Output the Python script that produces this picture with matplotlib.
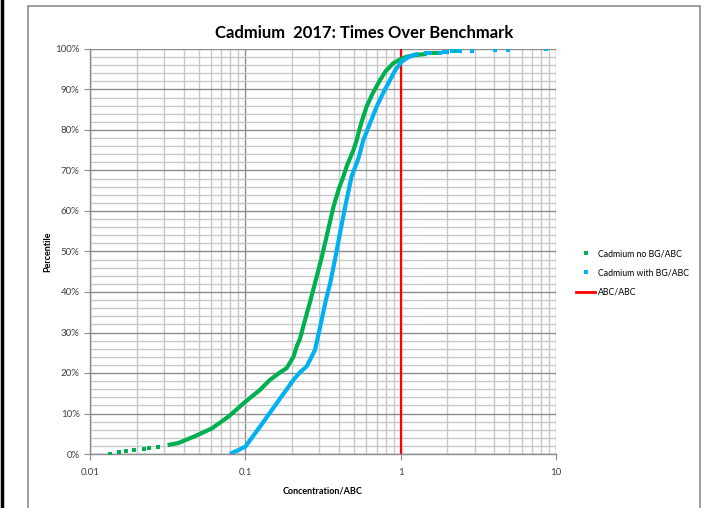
import numpy as np
import matplotlib.pyplot as plt
from matplotlib.ticker import FixedLocator, NullFormatter, FuncFormatter
from matplotlib.lines import Line2D
from matplotlib.patches import Rectangle

plt.rcParams['font.family'] = ['Lato', 'DejaVu Sans']

# Cadmium no BG/ABC  (concentration / ABC, percentile %)
green_body_x = [0.0316, 0.037, 0.0474, 0.0608, 0.0777, 0.100, 0.124, 0.144, 0.165, 0.1845,
                0.204, 0.214, 0.225, 0.24, 0.265, 0.288, 0.31, 0.335, 0.369, 0.40,
                0.4276, 0.449, 0.496, 0.521, 0.56, 0.604, 0.66, 0.736, 0.80, 0.897,
                1.0, 1.094, 1.25, 1.47]
green_body_y = [2.2, 2.7, 4.4, 6.3, 9.2, 12.9, 15.8, 18.3, 20.0, 21.2,
                24.0, 26.5, 28.5, 32.5, 38.5, 43.8, 48.5, 54.0, 61.0, 65.5,
                68.5, 71.0, 75.0, 77.5, 82.0, 85.8, 89.0, 92.3, 94.5, 96.5,
                97.5, 98.1, 98.5, 98.8]
green_tail_x = [0.0134, 0.01537, 0.01698, 0.0193, 0.0224, 0.024, 0.0275,
                1.55, 1.62, 1.7, 2.25, 2.4]
green_tail_y = [0.0, 0.4, 0.8, 1.0, 1.2, 1.4, 1.8,
                98.9, 99.0, 99.0, 99.4, 99.4]

# Cadmium with BG/ABC
cyan_body_x = [0.0796, 0.1, 0.124, 0.159, 0.204, 0.225, 0.248, 0.281, 0.30, 0.33,
               0.351, 0.38, 0.4066, 0.439, 0.483, 0.535, 0.575, 0.64, 0.701, 0.78,
               0.853, 0.93, 1.016, 1.10, 1.206, 1.30]
cyan_body_y = [0.0, 1.8, 6.7, 12.5, 18.3, 20.2, 21.6, 25.7, 30.6, 38.0,
               42.0, 48.5, 54.5, 61.0, 68.5, 73.0, 77.5, 82.0, 85.8, 89.5,
               92.3, 95.0, 96.9, 97.8, 98.5, 98.8]
cyan_tail_x = [1.45, 1.55, 1.79, 1.9, 2.0, 2.15, 2.3, 2.4, 2.9, 4.05, 4.91, 8.59]
cyan_tail_y = [98.9, 99.0, 99.1, 99.2, 99.3, 99.4, 99.5, 99.5, 99.6, 99.7, 99.8, 99.9]

abc_x = [1, 1]
abc_y = [0, 100]

GREEN = '#00B050'
CYAN = '#00B0F0'
RED = '#FF0000'

fig = plt.figure(figsize=(7.19, 5.08), dpi=100)
ax = fig.add_axes([90 / 719, 1 - 454 / 508, 466 / 719, 405 / 508])

# chart borders
fig.add_artist(Rectangle((28 / 719, -0.01), 672 / 719, 1 - 6 / 508 + 0.01,
                         transform=fig.transFigure, fill=False,
                         edgecolor='#8c8c8c', lw=1.2))
fig.add_artist(Line2D([2 / 719, 2 / 719], [0, 1], transform=fig.transFigure,
                      color='black', lw=2.5))

ax.set_xscale('log')
ax.set_xlim(0.01, 10)
ax.set_ylim(0, 100)

ax.xaxis.set_major_locator(FixedLocator([0.01, 0.1, 1, 10]))
ax.xaxis.set_major_formatter(FuncFormatter(lambda v, p: '%g' % v))
ax.xaxis.set_minor_locator(FixedLocator([m * d for d in [0.01, 0.1, 1] for m in range(2, 10)]))
ax.xaxis.set_minor_formatter(NullFormatter())
ax.yaxis.set_major_locator(FixedLocator(np.arange(0, 101, 10)))
ax.yaxis.set_major_formatter(FuncFormatter(lambda v, p: '%d%%' % v))
ax.yaxis.set_minor_locator(FixedLocator(np.arange(0, 101, 2)))

ax.grid(which='major', color='#8c8c8c', lw=1.0)
ax.grid(which='minor', color='#c8c8c8', lw=1.0)
ax.set_axisbelow(True)

for s in ['top', 'right']:
    ax.spines[s].set_visible(False)
for s in ['left', 'bottom']:
    ax.spines[s].set_color('#8c8c8c')
    ax.spines[s].set_linewidth(1.0)

ax.tick_params(which='major', length=4, color='#8c8c8c', labelsize=7, labelcolor='#404040')
ax.tick_params(axis='x', which='major', pad=6)
ax.tick_params(which='minor', length=0)

ax.plot(abc_x, abc_y, color=RED, lw=1.6, zorder=2)
ax.plot(green_body_x, green_body_y, color=GREEN, lw=3, solid_capstyle='butt',
        solid_joinstyle='round', zorder=3)
ax.plot(green_tail_x, green_tail_y, 's', color=GREEN, ms=3, mew=0, zorder=3)
ax.plot(cyan_body_x, cyan_body_y, color=CYAN, lw=3, solid_capstyle='butt',
        solid_joinstyle='round', zorder=3)
ax.plot(cyan_tail_x, cyan_tail_y, 's', color=CYAN, ms=3, mew=0, zorder=3)

fig.text(364 / 719, 1 - 33 / 508, 'Cadmium  2017: Times Over Benchmark',
         ha='center', va='center', fontsize=12, fontweight='bold')
ax.set_xlabel('Concentration/ABC', fontsize=6.5, fontweight='bold')
ax.xaxis.set_label_coords(0.5, -0.081)
ax.set_ylabel('Percentile', fontsize=6.5, fontweight='bold')
ax.yaxis.set_label_coords(-0.081, 0.5)

handles = [Line2D([], [], ls='none', marker='s', color=GREEN, ms=3, mew=0),
           Line2D([], [], ls='none', marker='s', color=CYAN, ms=3, mew=0),
           Line2D([], [], color=RED, lw=2)]
labels = ['Cadmium no BG/ABC', 'Cadmium with BG/ABC', 'ABC/ABC']
fig.legend(handles, labels, loc='center left', bbox_to_anchor=(576 / 719, 1 - 273 / 508),
           frameon=False, fontsize=6.3, handlelength=2.2, handletextpad=0.35,
           labelspacing=1.17, borderaxespad=0, borderpad=0)

fig.savefig('out.png', dpi=100)
